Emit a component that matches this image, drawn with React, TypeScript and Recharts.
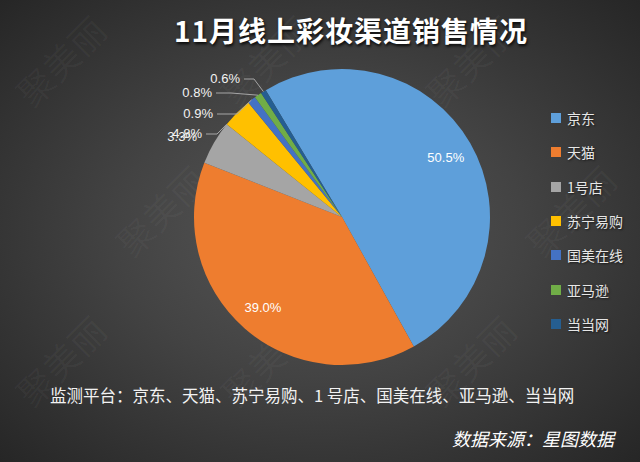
import React from 'react';
import { PieChart, Pie, Cell, Legend } from 'recharts';

const channels = ['京东', '天猫', '1号店', '苏宁易购', '国美在线', '亚马逊', '当当网'];
const shares = [50.5, 39.0, 4.8, 3.3, 0.9, 0.8, 0.6];
const shareLabels = ['50.5%', '39.0%', '4.8%', '3.3%', '0.9%', '0.8%', '0.6%'];

const COLORS = ['#5E9FDA', '#EE7D2F', '#A5A5A5', '#FFC000', '#4472C4', '#70AD47', '#255E91'];
const FONT = '"Noto Sans CJK SC", "Noto Sans", sans-serif';
const RAD = Math.PI / 180;

const data = channels.map((name, i) => ({ name, value: shares[i] }));

// where the small slices put their text (right end, relative to the pie centre)
const OUTSIDE: Record<number, { dx: number; dy: number; elbow?: number; toEnd?: boolean }> = {
  2: { dx: -140, dy: -84, elbow: 11, toEnd: true },
  3: { dx: -145, dy: -81 },
  4: { dx: -129, dy: -104, elbow: 20 },
  5: { dx: -130, dy: -125, elbow: 15 },
  6: { dx: -102, dy: -139, elbow: 10 },
};

const renderLabel = (props: any) => {
  const { cx, cy, midAngle, outerRadius, percent, index } = props;
  const text = shareLabels[index];
  if (index < 2) {
    const r = outerRadius * 0.81;
    const x = cx + r * Math.cos(-midAngle * RAD);
    const y = cy + r * Math.sin(-midAngle * RAD);
    return (
      <text x={x} y={y} fill="#ffffff" fontSize={13} fontFamily="Liberation Sans, Arial" textAnchor="middle" dominantBaseline="central">
        {text}
      </text>
    );
  }
  const o = OUTSIDE[index];
  const tx = cx + o.dx;
  const ty = cy + o.dy;
  let leader = null;
  if (o.elbow) {
    const ang = o.toEnd ? midAngle - percent * 180 : midAngle;
    const ex = cx + outerRadius * Math.cos(-ang * RAD);
    const ey = cy + outerRadius * Math.sin(-ang * RAD);
    leader = (
      <polyline
        points={`${tx + 4},${ty + 1} ${tx + 4 + o.elbow},${ty + 1} ${ex},${ey}`}
        fill="none"
        stroke="#a6a6a6"
        strokeWidth={1}
      />
    );
  }
  return (
    <g>
      {leader}
      <text x={tx} y={ty} fill="#f2f2f2" fontSize={13} fontFamily="Liberation Sans, Arial" textAnchor="end" dominantBaseline="central">
        {text}
      </text>
    </g>
  );
};

const renderLegend = () => (
  <div style={{ fontFamily: FONT }}>
    {channels.map((name, i) => (
      <div key={name} style={{ height: 34.3, display: 'flex', alignItems: 'center' }}>
        <span style={{ width: 10, height: 10, background: COLORS[i], marginRight: 6, display: 'inline-block' }} />
        <span style={{ color: '#e6e6e6', fontSize: 14, textShadow: '1px 1px 2px rgba(0,0,0,0.6)' }}>{name}</span>
      </div>
    ))}
  </div>
);

// faint watermark grid (only the ones that fit inside the frame)
const marks: [number, number][] = [
  [60, 60], [265, 60], [470, 60],
  [160, 210], [365, 210], [570, 210],
  [60, 360], [265, 360], [470, 360],
];

export default function App() {
  return (
    <div
      style={{
        position: 'absolute',
        left: 0,
        top: 0,
        width: 640,
        height: 462,
        overflow: 'hidden',
        background: 'radial-gradient(ellipse at 50% 50%, #575757 0%, #434343 45%, #2e2e2e 85%, #262626 100%)',
        fontFamily: FONT,
      }}
    >
      {marks.map(([x, y], i) => (
        <div
          key={i}
          style={{
            position: 'absolute',
            left: x - 60,
            top: y - 22,
            width: 120,
            textAlign: 'center',
            fontSize: 36,
            lineHeight: '44px',
            color: 'rgba(255,255,255,0.035)',
            transform: 'rotate(-45deg)',
            whiteSpace: 'nowrap',
          }}
        >
          聚美丽
        </div>
      ))}
      <div
        style={{
          position: 'absolute',
          left: 101,
          top: 10,
          width: 500,
          textAlign: 'center',
          color: '#ffffff',
          fontSize: 28,
          fontWeight: 700,
          letterSpacing: 1,
          lineHeight: '40px',
          textShadow: '1px 2px 3px rgba(0,0,0,0.85)',
        }}
      >
        11月线上彩妆渠道销售情况
      </div>
      <div style={{ position: 'absolute', left: 0, top: 0 }}>
        <PieChart width={640} height={462} margin={{ top: 0, right: 0, bottom: 0, left: 0 }}>
          <Pie
            data={data}
            dataKey="value"
            nameKey="name"
            cx={342}
            cy={217}
            outerRadius={148}
            startAngle={121}
            endAngle={-239}
            stroke="none"
            label={renderLabel}
            labelLine={false}
            isAnimationActive={false}
          >
            {data.map((entry, index) => (
              <Cell key={`cell-${index}`} fill={COLORS[index % COLORS.length]} />
            ))}
          </Pie>
          <Legend
            layout="vertical"
            align="right"
            verticalAlign="top"
            content={renderLegend}
            wrapperStyle={{ left: 551, top: 101, width: 90 }}
          />
        </PieChart>
      </div>
      <div
        style={{
          position: 'absolute',
          left: 50,
          top: 383,
          color: '#f2f2f2',
          fontSize: 16.5,
          lineHeight: '24px',
          whiteSpace: 'nowrap',
        }}
      >
        监测平台：京东、天猫、苏宁易购、1 号店、国美在线、亚马逊、当当网
      </div>
      <div
        style={{
          position: 'absolute',
          right: 26,
          top: 425,
          color: '#ffffff',
          fontSize: 18,
          fontStyle: 'italic',
          lineHeight: '26px',
          whiteSpace: 'nowrap',
        }}
      >
        数据来源：星图数据
      </div>
    </div>
  );
}
